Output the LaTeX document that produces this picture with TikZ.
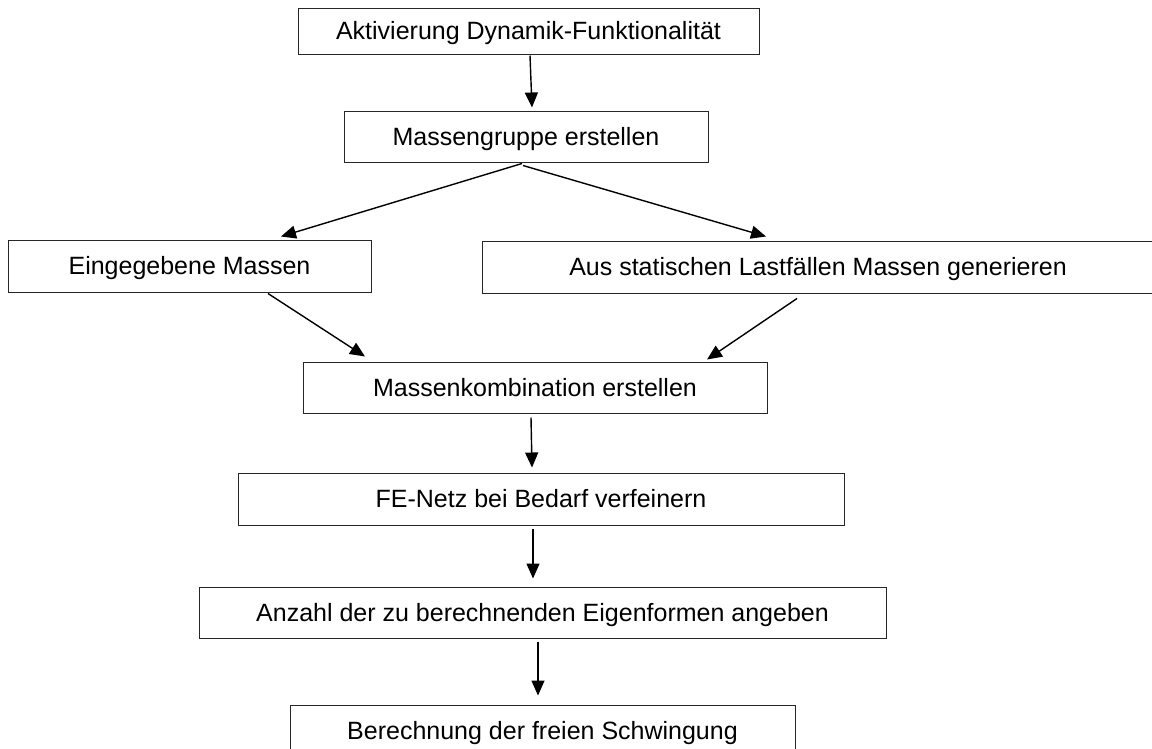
\documentclass[tikz,border=0pt]{standalone}
\usepackage{fontspec}
\setmainfont{Liberation Sans}
\usetikzlibrary{arrows.meta,calc}
\begin{document}
\begin{tikzpicture}[x=1pt,y=-1pt,
  box/.style={draw=black!85,line width=1pt,inner sep=0pt,
    font=\fontsize{25}{30}\selectfont,text height=20pt,text depth=3pt,align=center},
  arr/.style={draw=black,line width=1.4pt,-{Triangle[length=15pt,width=13pt]}}]
\clip (0,0) rectangle (1152,748);
\fill[white] (0,0) rectangle (1152,748);
\node[box,minimum width=461pt,minimum height=46pt] (b1) at (528.5,31) {Aktivierung Dynamik-Funktionalität};
\node[box,minimum width=364pt,minimum height=51pt] (b2) at (526,136.5) {Massengruppe erstellen};
\node[box,minimum width=363pt,minimum height=52pt] (b3) at (189.5,266) {Eingegebene Massen};
\node[box,minimum width=672pt,minimum height=52pt] (b4) at (818,267) {Aus statischen Lastfällen Massen generieren};
\node[box,minimum width=464pt,minimum height=51pt] (b5) at (535,387.5) {Massenkombination erstellen};
\node[box,minimum width=606pt,minimum height=52pt] (b6) at (541,499) {FE-Netz bei Bedarf verfeinern};
\node[box,minimum width=687pt,minimum height=51pt] (b7) at (542.5,612.5) {Anzahl der zu berechnenden Eigenformen angeben};
\node[box,minimum width=505pt,minimum height=52pt] (b8) at (542.5,731) {Berechnung der freien Schwingung};
\draw[arr] ($(b1.south)+(1.5,1)$) -- ($(b2.north)+(6,-3)$);
\draw[arr] ($(b2.south)+(-4,1)$) -- ($(b3.north)+(91.5,-3)$);
\draw[arr] ($(b2.south)+(-3,3)$) -- ($(b4.north)+(-52,-4)$);
\draw[arr] ($(b3.south)+(78.5,1)$) -- ($(b5.north)+(-170,-5)$);
\draw[arr] ($(b4.south)+(-21,5)$) -- ($(b5.north)+(172,-2)$);
\draw[arr] ($(b5.south)+(-4,4)$) -- ($(b6.north)+(-9,-5)$);
\draw[arr] ($(b6.south)+(-8,3)$) -- ($(b7.north)+(-9.5,-8)$);
\draw[arr] ($(b7.south)+(-4.5,3)$) -- ($(b8.north)+(-4.5,-9)$);
\end{tikzpicture}
\end{document}
